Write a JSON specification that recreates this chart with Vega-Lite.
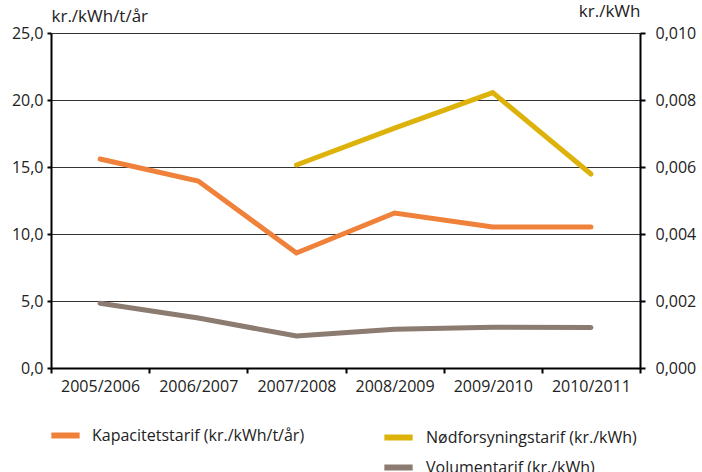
{
  "$schema": "https://vega.github.io/schema/vega-lite/v6.json",
  "autosize": "none",
  "padding": {"left": 51, "top": 33, "right": 62, "bottom": 104},
  "width": 589,
  "height": 335,
  "background": "white",
  "config": {
    "font": "Open Sans",
    "view": {"stroke": null},
    "axis": {"labelFont": "Open Sans", "labelFontSize": 16, "labelColor": "#222", "titleFont": "Open Sans", "titleFontSize": 17, "titleFontWeight": "normal", "titleColor": "#222", "domainColor": "#000", "tickColor": "#000"},
    "legend": {"labelFont": "Open Sans", "labelFontSize": 16, "labelColor": "#222", "labelLimit": 0}
  },
  "datasets": {
    "left": [
      {"period": "2005/2006", "series": "Kapacitetstarif (kr./kWh/t/år)", "value": 15.6},
      {"period": "2006/2007", "series": "Kapacitetstarif (kr./kWh/t/år)", "value": 13.95},
      {"period": "2007/2008", "series": "Kapacitetstarif (kr./kWh/t/år)", "value": 8.58},
      {"period": "2008/2009", "series": "Kapacitetstarif (kr./kWh/t/år)", "value": 11.57},
      {"period": "2009/2010", "series": "Kapacitetstarif (kr./kWh/t/år)", "value": 10.52},
      {"period": "2010/2011", "series": "Kapacitetstarif (kr./kWh/t/år)", "value": 10.52}
    ],
    "right": [
      {"period": "2007/2008", "series": "Nødforsyningstarif (kr./kWh)", "value": 0.00606},
      {"period": "2008/2009", "series": "Nødforsyningstarif (kr./kWh)", "value": 0.00716},
      {"period": "2009/2010", "series": "Nødforsyningstarif (kr./kWh)", "value": 0.00822},
      {"period": "2010/2011", "series": "Nødforsyningstarif (kr./kWh)", "value": 0.00579},
      {"period": "2005/2006", "series": "Volumentarif (kr./kWh)", "value": 0.00193},
      {"period": "2006/2007", "series": "Volumentarif (kr./kWh)", "value": 0.00149},
      {"period": "2007/2008", "series": "Volumentarif (kr./kWh)", "value": 0.000955},
      {"period": "2008/2009", "series": "Volumentarif (kr./kWh)", "value": 0.00116},
      {"period": "2009/2010", "series": "Volumentarif (kr./kWh)", "value": 0.00122},
      {"period": "2010/2011", "series": "Volumentarif (kr./kWh)", "value": 0.00121}
    ]
  },
  "encoding": {
    "x": {
      "field": "period", "type": "ordinal",
      "scale": {"type": "band", "paddingInner": 0, "paddingOuter": 0,
        "domain": ["2005/2006", "2006/2007", "2007/2008", "2008/2009", "2009/2010", "2010/2011"]},
      "axis": {"title": null, "labelAngle": 0, "tickBand": "extent", "domainWidth": 2, "tickWidth": 2, "tickSize": 5, "labelPadding": 5}
    }
  },
  "layer": [
    {
      "data": {"name": "left"},
      "mark": {"type": "line", "strokeWidth": 5, "strokeCap": "round"},
      "encoding": {
        "y": {"field": "value", "type": "quantitative",
          "scale": {"domain": [0, 25], "nice": false},
          "axis": {"title": "kr./kWh/t/år", "titleAngle": 0, "titleX": 0, "titleY": -8, "titleAlign": "left", "titleBaseline": "bottom",
            "values": [0, 5, 10, 15, 20, 25], "labelExpr": "replace(format(datum.value, '.1f'), '.', ',')",
            "grid": true, "gridColor": "#333", "gridWidth": 1, "domainWidth": 2, "tickWidth": 2, "tickSize": 4, "labelPadding": 4}},
        "color": {"field": "series", "type": "nominal",
          "scale": {"domain": ["Kapacitetstarif (kr./kWh/t/år)"], "range": ["#F0813A"]},
          "legend": {"title": null, "orient": "none", "legendX": -3, "legendY": 385, "symbolType": "stroke", "symbolSize": 800, "symbolStrokeWidth": 6, "labelOffset": 9}}
      }
    },
    {
      "data": {"name": "right"},
      "mark": {"type": "line", "strokeWidth": 5, "strokeCap": "round"},
      "encoding": {
        "y": {"field": "value", "type": "quantitative",
          "scale": {"domain": [0, 0.01], "nice": false},
          "axis": {"orient": "right", "title": "kr./kWh", "titleAngle": 0, "titleX": 0, "titleY": -13, "titleAlign": "right", "titleBaseline": "bottom",
            "values": [0, 0.002, 0.004, 0.006, 0.008, 0.01], "labelExpr": "replace(format(datum.value, '.3f'), '.', ',')",
            "grid": false, "domainWidth": 2, "tickWidth": 2, "tickSize": 5, "labelPadding": 10}},
        "color": {"field": "series", "type": "nominal",
          "scale": {"domain": ["Nødforsyningstarif (kr./kWh)", "Volumentarif (kr./kWh)"], "range": ["#DDB20A", "#8C7B70"]},
          "legend": {"title": null, "orient": "none", "legendX": 330, "legendY": 387, "symbolType": "stroke", "symbolSize": 800, "symbolStrokeWidth": 6, "labelOffset": 10, "rowPadding": 0}}
      }
    }
  ],
  "resolve": {"scale": {"y": "independent", "color": "independent"}}
}
